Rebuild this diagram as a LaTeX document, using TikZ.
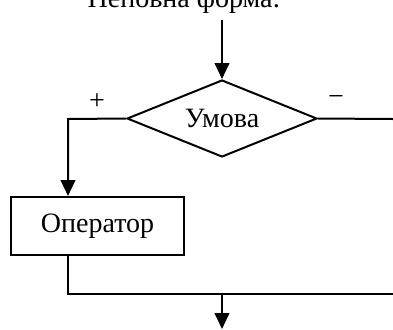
\documentclass[tikz,border=0pt]{standalone}
\usepackage{fontspec}
\setmainfont{Liberation Serif}
\usetikzlibrary{arrows.meta,shapes.geometric}
\begin{document}
\begin{tikzpicture}[x=0.75pt,y=-0.75pt,
  line width=1.5pt,
  arr/.style={-{Triangle[length=12pt,width=11pt]}},
  txt/.style={font=\fontsize{21}{25}\selectfont},
  sgn/.style={font=\fontsize{21}{25}\selectfont, inner sep=0pt}]
\useasboundingbox (0,0) rectangle (393,329);
\node[txt, anchor=base, inner sep=0pt] (title) at (184,7) {Неповна форма:};
\coordinate (in) at (222,20);
\node[draw, diamond, txt, aspect=2.47, inner sep=0pt, minimum width=142.5pt,
  minimum height=57.75pt] (cond) at (222,118.5) {Умова};
\node[draw, txt, minimum width=129.75pt, minimum height=43.5pt, inner sep=0pt,
  anchor=north west] (op) at (10,196) {Оператор};
\coordinate (lc) at (68,119);
\coordinate (rc) at (393,119);
\coordinate (jl) at (68,294);
\coordinate (jm) at (222,294);
\coordinate (jr) at (393,294);
\coordinate (out) at (222,329);
\draw[arr] (in) -- (cond.north);
\draw[arr] (cond.west) -- (lc) -- (op.north -| lc);
\draw (cond.east) -- (rc);
\draw (op.south -| lc) -- (jl) -- (jr);
\draw[arr] (jm) -- (out);
\node[sgn] (plus) at (97,102) {+};
\node[sgn] (minus) at (336,100) {−};
\end{tikzpicture}
\end{document}
